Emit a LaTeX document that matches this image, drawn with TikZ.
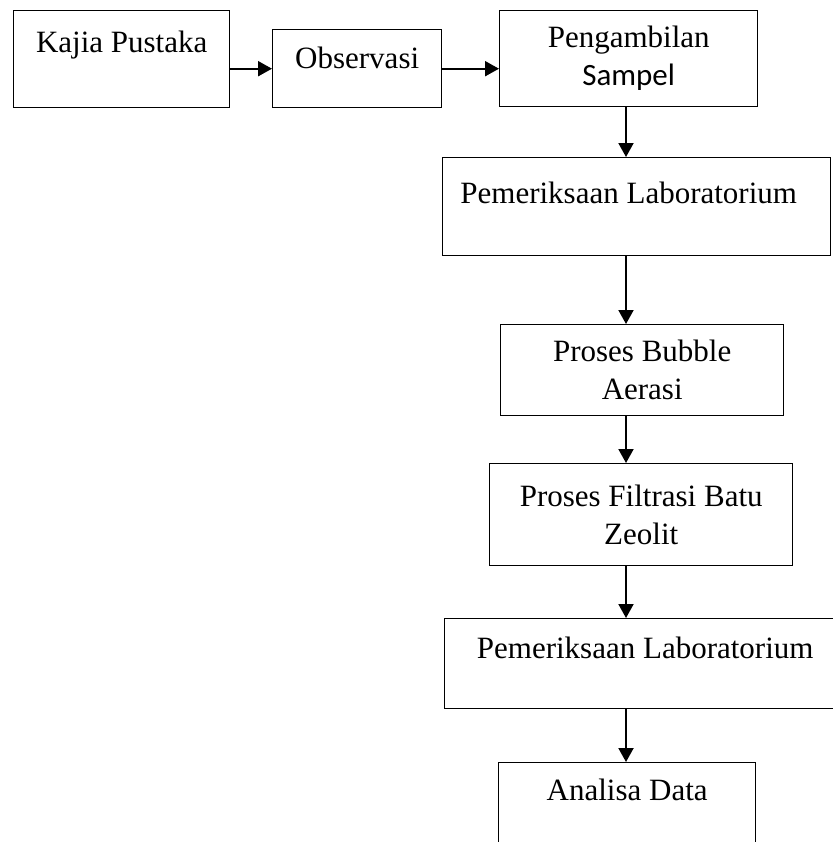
\documentclass[tikz,border=0pt]{standalone}
\usepackage{fontspec}
\setmainfont{Liberation Serif}
\newfontfamily\sampelfont{Carlito}
\usetikzlibrary{arrows.meta,positioning}

\tikzset{
  kotak/.style={draw, line width=0.7pt, inner sep=0pt, anchor=north west,
                align=center, font=\fontsize{15.5}{19}\selectfont},
  panah/.style={-{Triangle[length=7pt,width=7.5pt]}, line width=1pt},
}

\begin{document}
\begin{tikzpicture}[x=0.5pt,y=-0.5pt]
  \useasboundingbox (0,0) rectangle (832,842);
  % Baris atas
  \node[kotak, minimum width=108pt, minimum height=48.5pt,
        text height=11pt, text depth=17.5pt] (kajia) at (13,10) {Kajia Pustaka};
  \node[kotak, minimum width=84.5pt, minimum height=39pt,
        text height=11pt, text depth=11pt] (obs) at (272,29) {Observasi};
  \node[kotak, minimum width=129pt, minimum height=48pt] (peng) at (499,10)
        {Pengambilan\\{\sampelfont Sampel}};
  % Kolom kanan
  \node[kotak, minimum width=194pt, minimum height=49pt,
        text height=11pt, text depth=14pt] (pem1) at (442,157)
        {Pemeriksaan Laboratorium\hspace*{8pt}};
  \node[kotak, minimum width=141.5pt, minimum height=45.5pt] (bubble) at (500,324)
        {Proses Bubble\\Aerasi};
  \node[kotak, minimum width=151.5pt, minimum height=51pt] (filtrasi) at (489,463)
        {Proses Filtrasi Batu\\Zeolit};
  \node[kotak, minimum width=200.5pt, minimum height=45pt,
        text height=11pt, text depth=16pt] (pem2) at (444,618)
        {Pemeriksaan Laboratorium};
  \node[kotak, minimum width=128.5pt, minimum height=47.5pt,
        text height=11pt, text depth=20.5pt] (analisa) at (498,762) {Analisa Data};
  \coordinate (poros) at (626,0);
  % Panah
  \draw[panah] (kajia.east |- obs.west) -- (obs.west);
  \draw[panah] (obs.east) -- (peng.west |- obs.east);
  \draw[panah] (poros |- peng.south) -- (poros |- pem1.north);
  \draw[panah] (poros |- pem1.south) -- (poros |- bubble.north);
  \draw[panah] (poros |- bubble.south) -- (poros |- filtrasi.north);
  \draw[panah] (poros |- filtrasi.south) -- (poros |- pem2.north);
  \draw[panah] (poros |- pem2.south) -- (poros |- analisa.north);
\end{tikzpicture}
\end{document}
